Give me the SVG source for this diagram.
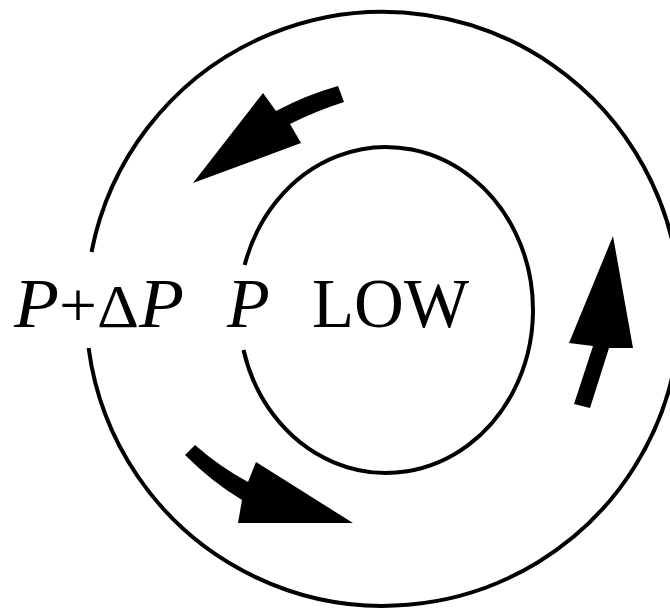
<svg xmlns="http://www.w3.org/2000/svg" width="670" height="610" viewBox="0 0 670 610">
<style>
.ring{fill:none;stroke:#000;stroke-width:4}
.arrow{fill:#000;stroke:none}
.lbl{font-family:"Liberation Serif","Times New Roman",serif;font-size:70px;fill:#000}
.it{font-style:italic}
</style>
<rect width="670" height="610" fill="#fff"/>
<g id="outer-ring">
<path class="ring" d="M91.5,252 A297,297 0 1 1 88.6,348"/>
</g>
<g id="inner-ring">
<path class="ring" d="M244.7,265 A147,163 0 1 1 243.5,350"/>
</g>
<g id="connectors">
<path id="arrow-top" class="arrow" d="M193,183 L263,93 L276,111 Q306,95 338,86 L344,102 Q316,111 290,124 L301,143 Z"/>
<path id="arrow-bottom" class="arrow" d="M185,455 L195,445 Q220,467 248,482 L256,462 L353,523 L238,523 L242,500 Q212,482 185,455 Z"/>
<path id="arrow-right" class="arrow" d="M613,236 L633,348 L609,348 L590,408 L574,404 L593,346 L569,343 Z"/>
</g>
<g id="label-outer">
<text class="lbl" x="14" y="327" textLength="170" lengthAdjust="spacingAndGlyphs"><tspan class="it">P</tspan><tspan font-size="64">+</tspan><tspan font-size="62">Δ</tspan><tspan class="it">P</tspan></text>
</g>
<g id="label-inner">
<text class="lbl it" x="227" y="327">P</text>
</g>
<g id="label-center">
<text class="lbl" x="312" y="327" textLength="157" lengthAdjust="spacingAndGlyphs">LOW</text>
</g>
</svg>
